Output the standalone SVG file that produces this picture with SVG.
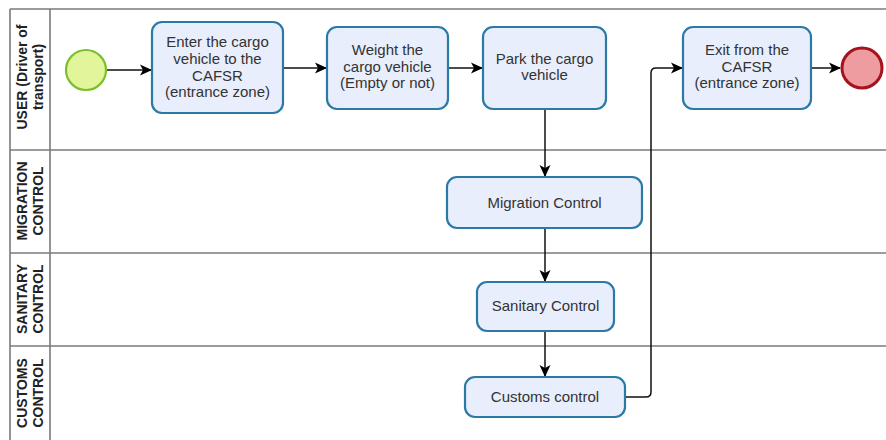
<svg xmlns="http://www.w3.org/2000/svg" width="886" height="440" viewBox="0 0 886 440">
<defs>
<marker id="arr" viewBox="0 0 12 12" refX="11" refY="6" markerWidth="12" markerHeight="12" markerUnits="userSpaceOnUse" orient="auto">
<path d="M0,0.5 L12,6 L0,11.5 L3,6 Z" fill="#000"/>
</marker>
</defs>
<style>
.lane{stroke:#7a7a7a;stroke-width:1.6;fill:none}
.lbl{font-family:"Liberation Sans",Arial,sans-serif;font-size:14px;font-weight:bold;fill:#222;text-anchor:middle}
.task rect{fill:#e8eefc;stroke:#2b7aa6;stroke-width:2.2}
.task text{font-family:"Liberation Sans",Arial,sans-serif;font-size:15px;fill:#333;text-anchor:middle}
.conn{stroke:#111;stroke-width:1.5;fill:none}
</style>
<rect width="886" height="440" fill="#fff"/>
<g id="lanes">
<line class="lane" x1="10" y1="9" x2="886" y2="9"/>
<line class="lane" x1="10" y1="9" x2="10" y2="440"/>
<line class="lane" x1="50" y1="9" x2="50" y2="440"/>
<line class="lane" x1="10" y1="150" x2="886" y2="150"/>
<line class="lane" x1="10" y1="253" x2="886" y2="253"/>
<line class="lane" x1="10" y1="346" x2="886" y2="346"/>
<g transform="translate(30,77) rotate(-90)"><text class="lbl" y="-3">USER (Driver of</text><text class="lbl" y="13">transport)</text></g>
<g transform="translate(30,201) rotate(-90)"><text class="lbl" y="-3">MIGRATION</text><text class="lbl" y="13">CONTROL</text></g>
<g transform="translate(30,299) rotate(-90)"><text class="lbl" y="-3">SANITARY</text><text class="lbl" y="13">CONTROL</text></g>
<g transform="translate(30,393) rotate(-90)"><text class="lbl" y="-3">CUSTOMS</text><text class="lbl" y="13">CONTROL</text></g>
</g>
<g id="connectors">
<line class="conn" x1="107" y1="70" x2="151" y2="70" marker-end="url(#arr)"/>
<line class="conn" x1="284" y1="68" x2="326" y2="68" marker-end="url(#arr)"/>
<line class="conn" x1="449" y1="68" x2="482" y2="68" marker-end="url(#arr)"/>
<line class="conn" x1="545" y1="110" x2="545" y2="176" marker-end="url(#arr)"/>
<line class="conn" x1="545" y1="229" x2="545" y2="281" marker-end="url(#arr)"/>
<line class="conn" x1="545" y1="332" x2="545" y2="376" marker-end="url(#arr)"/>
<path class="conn" d="M625,397 H646 Q651,397 651,392 V73 Q651,68 656,68 H682" marker-end="url(#arr)"/>
<line class="conn" x1="812" y1="68" x2="840" y2="68" marker-end="url(#arr)"/>
</g>
<g id="start"><circle cx="86" cy="70" r="20" fill="#e2f59a" stroke="#7cbf2e" stroke-width="2.2"/></g>
<g id="end"><circle cx="862" cy="68" r="20" fill="#ef9ca0" stroke="#a3141c" stroke-width="3"/></g>
<g id="enter" class="task"><rect x="152" y="22" width="131" height="91" rx="10"/>
<text x="217.5" y="47">Enter the cargo</text><text x="217.5" y="64">vehicle to the</text><text x="217.5" y="81">CAFSR</text><text x="217.5" y="97">(entrance zone)</text></g>
<g id="weight" class="task"><rect x="327" y="27" width="121" height="82" rx="10"/>
<text x="387.5" y="55">Weight the</text><text x="387.5" y="72">cargo vehicle</text><text x="387.5" y="88">(Empty or not)</text></g>
<g id="park" class="task"><rect x="483" y="27" width="123" height="82" rx="10"/>
<text x="544.5" y="64">Park the cargo</text><text x="544.5" y="80">vehicle</text></g>
<g id="exit" class="task"><rect x="683" y="27" width="128" height="82" rx="10"/>
<text x="747" y="55">Exit from the</text><text x="747" y="72">CAFSR</text><text x="747" y="88">(entrance zone)</text></g>
<g id="migration" class="task"><rect x="447" y="177" width="195" height="51" rx="10"/>
<text x="544.5" y="208">Migration Control</text></g>
<g id="sanitary" class="task"><rect x="477" y="282" width="137" height="49" rx="10"/>
<text x="545.5" y="311">Sanitary Control</text></g>
<g id="customs" class="task"><rect x="465" y="377" width="160" height="40" rx="10"/>
<text x="545" y="402">Customs control</text></g>
</svg>
